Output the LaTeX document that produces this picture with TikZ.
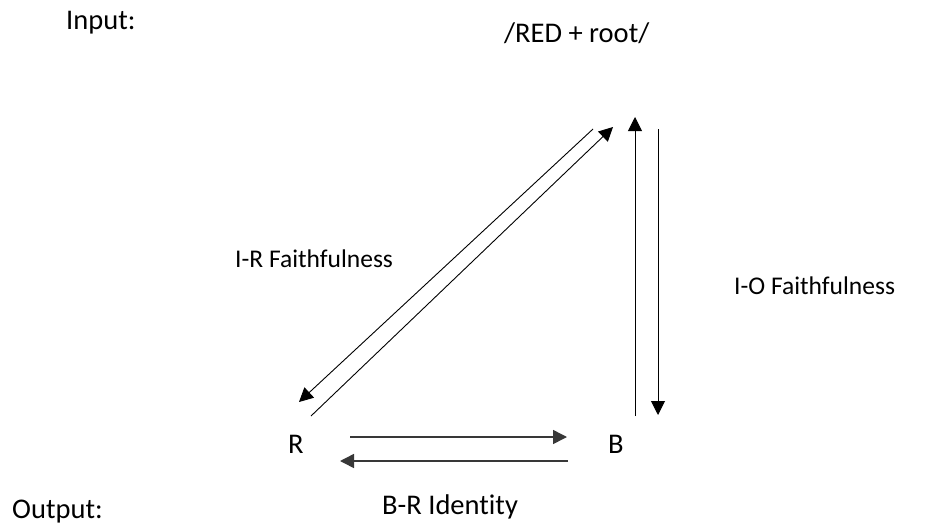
\documentclass[tikz,border=0pt]{standalone}
\usepackage{fontspec}
\setmainfont{Carlito}[Ligatures=NoCommon]
\usetikzlibrary{arrows.meta}
\begin{document}
\begin{tikzpicture}[x=1pt,y=-1pt,
  lbl/.style={anchor=base west,inner sep=0pt,font=\fontsize{28.5}{34}\selectfont},
  smalllbl/.style={lbl,font=\fontsize{25.5}{30}\selectfont},
  thinarrow/.style={line width=0.9pt,-{Triangle[length=14pt,width=14pt]}},
  thickarrow/.style={line width=1.5pt,draw=black!78,-{Triangle[length=14pt,width=14pt]}}]
\useasboundingbox (0,0) rectangle (933,527);
% labels
\node[lbl] (inp) at (66,30) {Input:};
\node[lbl] (red) at (504,42) {/RED + root/};
\node[smalllbl] (irf) at (235,267) {I-R Faithfulness};
\node[smalllbl] (iof) at (734,294) {I-O Faithfulness};
\node[lbl] (R) at (288,453) {R};
\node[lbl] (B) at (608,453) {B};
\node[lbl] (out) at (12,518) {Output:};
\node[lbl] (bri) at (382,514) {B-R Identity};
% arrow end points
\coordinate (d1s) at (593,129);
\coordinate (d1e) at (299,402);
\coordinate (d2s) at (311,416);
\coordinate (d2e) at (613,127);
\coordinate (v1s) at (635,416);
\coordinate (v1e) at (635,117);
\coordinate (v2s) at (658,129);
\coordinate (v2e) at (658,415);
\coordinate (h1s) at (350,437);
\coordinate (h1e) at (567,437);
\coordinate (h2s) at (568,461);
\coordinate (h2e) at (340,461);
% arrows
\draw[thinarrow] (d1s) -- (d1e);
\draw[thinarrow] (d2s) -- (d2e);
\draw[thinarrow] (v1s) -- (v1e);
\draw[thinarrow] (v2s) -- (v2e);
\draw[thickarrow] (h1s) -- (h1e);
\draw[thickarrow] (h2s) -- (h2e);
\end{tikzpicture}
\end{document}
